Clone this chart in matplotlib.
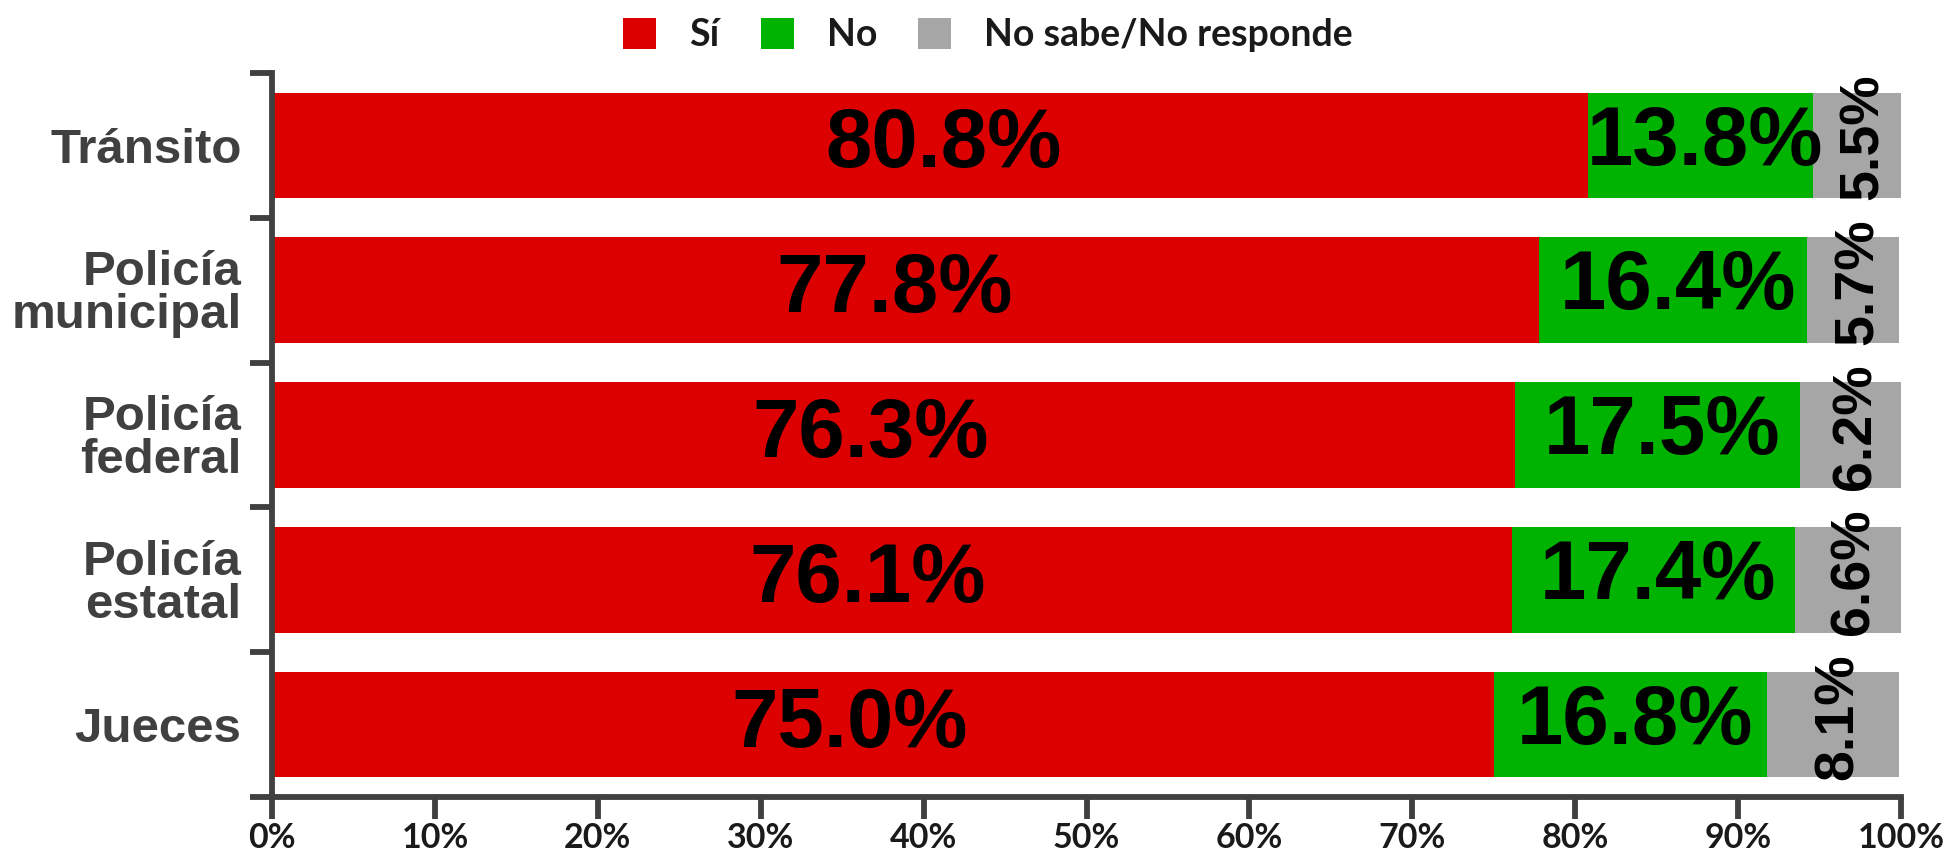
import matplotlib
matplotlib.use("Agg")
import matplotlib.pyplot as plt
from matplotlib.patches import Patch
from matplotlib.ticker import FixedLocator, FuncFormatter

categories = ["Tránsito", "Policía\nmunicipal", "Policía\nfederal", "Policía\nestatal", "Jueces"]
si = [80.8, 77.8, 76.3, 76.1, 75.0]
no = [13.8, 16.4, 17.5, 17.4, 16.8]
nsnr = [5.5, 5.7, 6.2, 6.6, 8.1]
series_names = ["Sí", "No", "No sabe/No responde"]
colors = ["#DD0000", "#00B300", "#A6A6A6"]
xticks = [0, 10, 20, 30, 40, 50, 60, 70, 80, 90, 100]

W, H = 1952, 861
fig = plt.figure(figsize=(W / 100, H / 100), dpi=100)
ax = fig.add_axes([272 / W, 1 - 797 / H, (1901 - 272) / W, (797 - 73) / H])

ypos = list(range(len(categories)))
left = [0.0] * len(categories)
series = [si, no, nsnr]
for idx, (vals, name, c) in enumerate(zip(series, series_names, colors)):
    ax.barh(ypos, vals, left=left, height=0.73, color=c, label=name, zorder=2)
    for y, l, v in zip(ypos, left, vals):
        txt = f"{v:.1f}%"
        if idx == 0:
            # label sits at a fixed distance inside the bar end
            ax.annotate(txt, xy=(l + v, y), xytext=(-464, 0),
                        textcoords="offset points", ha="center", va="center",
                        fontsize=60, fontweight="bold", family="Liberation Sans",
                        color="black", zorder=3)
        elif idx == 1:
            ax.annotate(txt, xy=(l + v / 2, y), xytext=(3.5, 2),
                        textcoords="offset points", ha="center", va="center",
                        fontsize=60, fontweight="bold", family="Liberation Sans",
                        color="black", zorder=3)
        else:
            ax.annotate(txt, xy=(l + v / 2, y), xytext=(4, 6),
                        textcoords="offset points", ha="center", va="center",
                        rotation=90, fontsize=40, fontweight="bold",
                        family="Liberation Sans", color="black", zorder=3)
    left = [a + b for a, b in zip(left, vals)]

ax.set_xlim(0, 100)
ax.set_ylim(len(categories) - 0.5, -0.5)

# x axis
ax.xaxis.set_major_locator(FixedLocator(xticks))
ax.xaxis.set_major_formatter(FuncFormatter(lambda v, p: f"{int(v)}%"))
ax.tick_params(axis="x", which="major", length=16, width=4.2, color="#404040",
               pad=2, labelsize=24.5)
for lab in ax.get_xticklabels():
    lab.set_fontfamily("Lato")
    lab.set_fontweight("bold")
    lab.set_color("#1a1a1a")

# y axis: ticks at boundaries, labels at centres
bounds = [i - 0.5 for i in range(len(categories) + 1)]
ax.yaxis.set_major_locator(FixedLocator(bounds))
ax.yaxis.set_major_formatter(FuncFormatter(lambda v, p: ""))
ax.yaxis.set_minor_locator(FixedLocator(ypos))
ax.yaxis.set_minor_formatter(FuncFormatter(lambda v, p: categories[int(round(v))]))
ax.tick_params(axis="y", which="major", length=16, width=4.2, color="#404040")
ax.tick_params(axis="y", which="minor", length=0, pad=22, labelsize=35.5)
for lab in ax.get_yticklabels(minor=True):
    lab.set_fontfamily("Liberation Sans")
    lab.set_fontweight("bold")
    lab.set_color("#404040")
    lab.set_linespacing(0.95)
    lab.set_multialignment("right")

for s in ["top", "right"]:
    ax.spines[s].set_visible(False)
for s in ["left", "bottom"]:
    ax.spines[s].set_color("#404040")
    ax.spines[s].set_linewidth(4.2)

handles = [Patch(facecolor=c, edgecolor="none", label=n) for c, n in zip(colors, series_names)]
leg = fig.legend(handles=handles, loc="center", bbox_to_anchor=(988 / W, 1 - 35 / H),
                 ncol=3, frameon=False, handlelength=0.88, handleheight=0.9,
                 handletextpad=0.88, columnspacing=1.1, borderpad=0.1,
                 prop={"family": "Lato", "weight": "bold", "size": 27})
for t in leg.get_texts():
    t.set_color("#1a1a1a")

fig.savefig("out.png", dpi=100)
